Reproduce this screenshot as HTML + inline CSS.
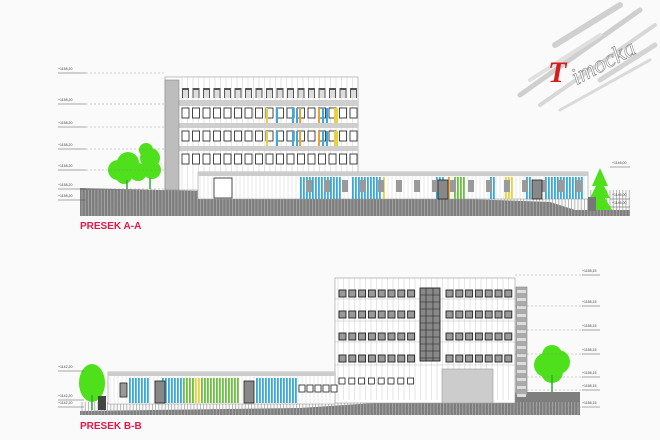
<!DOCTYPE html>
<html><head><meta charset="utf-8"><style>
html,body{margin:0;padding:0;background:#fafafa;}
svg{display:block;font-family:"Liberation Sans",sans-serif;}
</style></head><body>
<svg id="s" width="660" height="440" viewBox="0 0 660 440" xmlns="http://www.w3.org/2000/svg">
<rect width="660" height="440" fill="#fafafa"/>
<g id="g"></g>
<g stroke-linecap="round">
<line x1="520" y1="95" x2="640" y2="10" stroke="#cfcfcf" stroke-width="5"/>
<line x1="540" y1="105" x2="655" y2="25" stroke="#d8d8d8" stroke-width="4"/>
<line x1="555" y1="45" x2="620" y2="5" stroke="#d0d0d0" stroke-width="6"/>
<line x1="530" y1="80" x2="600" y2="35" stroke="#e0e0e0" stroke-width="4"/>
<line x1="600" y1="80" x2="655" y2="45" stroke="#d4d4d4" stroke-width="5"/>
<line x1="560" y1="110" x2="650" y2="60" stroke="#dadada" stroke-width="3"/>
</g>
<text x="548" y="82" font-family="Liberation Serif,serif" font-style="italic" font-size="30" fill="#d81c1c" font-weight="bold">T</text>
<text x="566" y="76" font-family="Liberation Serif,serif" font-style="italic" font-size="24" fill="#fff" stroke="#888" stroke-width="0.6" transform="rotate(-28 590 60)">imocka</text>
<text x="80" y="229" font-size="10" font-weight="bold" fill="#e3194b">PRESEK A-A</text>
<text x="80" y="429" font-size="10" font-weight="bold" fill="#e3194b">PRESEK B-B</text>
</svg>
<script>
var g=document.getElementById('g'),h='';
function r(x,y,w,hh,f,s,sw){h+='<rect x="'+x+'" y="'+y+'" width="'+w+'" height="'+hh+'" fill="'+f+'"'+(s?' stroke="'+s+'" stroke-width="'+(sw||0.6)+'"':'')+'/>';}
function l(x1,y1,x2,y2,s,w,d){h+='<line x1="'+x1+'" y1="'+y1+'" x2="'+x2+'" y2="'+y2+'" stroke="'+s+'" stroke-width="'+(w||0.5)+'"'+(d?' stroke-dasharray="'+d+'"':'')+'/>';}
function p(pts,f){h+='<polygon points="'+pts+'" fill="'+f+'"/>';}
function t(x,y,s){h+='<text x="'+x+'" y="'+y+'" font-size="3.5" fill="#444">'+s+'</text>';}
function c(x,y,rr){h+='<circle cx="'+x+'" cy="'+y+'" r="'+rr+'" fill="#4ee01a"/>';}
/* ===== A-A ===== */
p('80,188 240,192 300,198 440,198 550,202 575,210 630,210 630,216 80,216','#7e7e7e');
for(var x=82;x<630;x+=3.2)l(x,190,x,216,'#aaa',0.8);
r(165,77,193,113,'#fff','#999');
r(165,100,193,6,'#cfcfcf');r(165,123,193,5,'#cfcfcf');r(165,146,193,5,'#cfcfcf');
r(165,80,14,110,'#bdbdbd','#888');
for(x=182;x<356;x+=5.5)l(x,77,x,190,'#ccc',0.5);
for(x=182;x<352;x+=10.5){r(x,88,7,10,'#555');r(x+1,90,5,8,'#ddd');}
for(var fy of [108,131,154]){for(x=182;x<352;x+=10.5){r(x,fy,7,10,'#fff','#333',0.9);}}
var cc=[['#e8d23a',266],['#3aa8e0',276],['#3aa8e0',292],['#3aa8e0',296],['#f0a030',299],['#f0a030',318],['#3aa8e0',322],['#3aa8e0',326],['#e8d23a',334],['#e8d23a',336]];
for(var q of cc){r(q[1],108,2,15,q[0]);r(q[1],131,2,15,q[0]);}
r(198,172,390,27,'#fff','#999');r(198,172,390,4,'#ccc');
for(x=200;x<586;x+=4)l(x,176,x,199,'#d0d0d0',0.5);
var seq=[[300,340,'#3aa8e0'],[352,380,'#3aa8e0'],[383,386,'#e8d23a'],[436,445,'#3aa8e0'],[448,451,'#f0a030'],[454,465,'#6cc040'],[490,496,'#3aa8e0'],[505,514,'#e8d23a'],[526,530,'#3aa8e0'],[545,584,'#3aa8e0']];
for(var s of seq){for(x=s[0];x<s[1];x+=3)r(x,177,1.8,22,s[2]);}
for(x=300;x<586;x+=18)r(x+6,180,6,12,'#9a9a9a');
r(214,178,18,20,'#fff','#222',0.8);r(438,180,10,19,'#888','#222',0.8);r(532,180,10,19,'#888','#222',0.8);
// trees A
c(118,170,10);c(128,163,11);c(138,172,9);c(150,158,10);c(152,170,9);c(146,150,7);c(124,176,8);
l(127,180,127,189,'#3a3',1.5);l(150,178,150,189,'#3a3',1.5);
p('600,168 592,186 596,186 590,198 595,198 588,210 612,210 605,198 610,198 604,186 608,186','#4ee01a');
r(588,197,8,14,'#777');
var la=[73,104,127,149,170,189,200];
for(var y of la){l(58,y,86,y,'#555',0.5);t(58,y-3,'+1158,20');l(86,y,165,y,'#888',0.4,'2,2');}
for(var y of [167,199,207]){l(610,y,630,y,'#555',0.5);t(612,y-3,'+1145,00');}
/* ===== B-B ===== */
p('80,411 300,408 420,400 520,392 580,392 580,415 80,415','#7e7e7e');
for(x=82;x<580;x+=3.2)l(x,402,x,415,'#aaa',0.8);
r(335,278,180,125,'#fff','#999');
for(x=338;x<514;x+=5.5)l(x,278,x,400,'#ccc',0.5);
for(y of [299,321,342,365])l(335,y,515,y,'#bbb',0.6);
for(var fy of [290,311,333,355]){for(x=339;x<415;x+=9.8)r(x,fy,7,7,'#999','#222',0.9);for(x=446;x<512;x+=9.8)r(x,fy,7,7,'#999','#222',0.9);}
for(x=339;x<415;x+=9.8)r(x,378,6,6,'#fff','#222',0.8);
r(420,288,20,73,'#888','#222',0.9);for(y=295;y<361;y+=7)l(420,y,440,y,'#222',0.6);l(426,288,426,361,'#222',0.6);l(433,288,433,361,'#222',0.6);
r(442,369,51,34,'#ccc','#999');
r(516,287,11,108,'#aaa','#888');for(y=290;y<395;y+=8)r(517,y,9,3,'#ddd');
r(108,372,227,32,'#fff','#999');r(108,372,227,4,'#ccc');
for(x=110;x<334;x+=4)l(x,376,x,403,'#d0d0d0',0.5);
var sb=[[129,150,'#3aa8e0'],[162,183,'#3aa8e0'],[183,195,'#6cc040'],[195,201,'#e8d23a'],[201,240,'#6cc040'],[256,296,'#3aa8e0']];
for(var s of sb){for(x=s[0];x<s[1];x+=3)r(x,378,1.8,25,s[2]);}
r(120,383,7,14,'#999','#222',0.8);r(155,381,10,22,'#888','#222',0.8);r(244,381,10,22,'#888','#222',0.8);
for(x=299;x<334;x+=8)r(x,385,6,7,'#fff','#222',0.8);
h+='<ellipse cx="92" cy="383" rx="13" ry="19" fill="#4ee01a"/>';l(92,395,92,410,'#3a3',1.5);r(98,396,8,14,'#444');
c(546,365,12);c(558,362,12);c(552,372,11);c(552,355,10);l(552,375,552,392,'#3a3',1.5);
for(var y of [275,306,330,354,377,390,407]){l(582,y,600,y,'#555',0.5);t(582,y-3,'+1158,15');l(515,y,582,y,'#888',0.4,'2,2');}
for(var y of [371,400,407]){l(58,y,84,y,'#555',0.5);t(58,y-3,'+1142,20');}
g.innerHTML=h;
</script>
</body></html>
